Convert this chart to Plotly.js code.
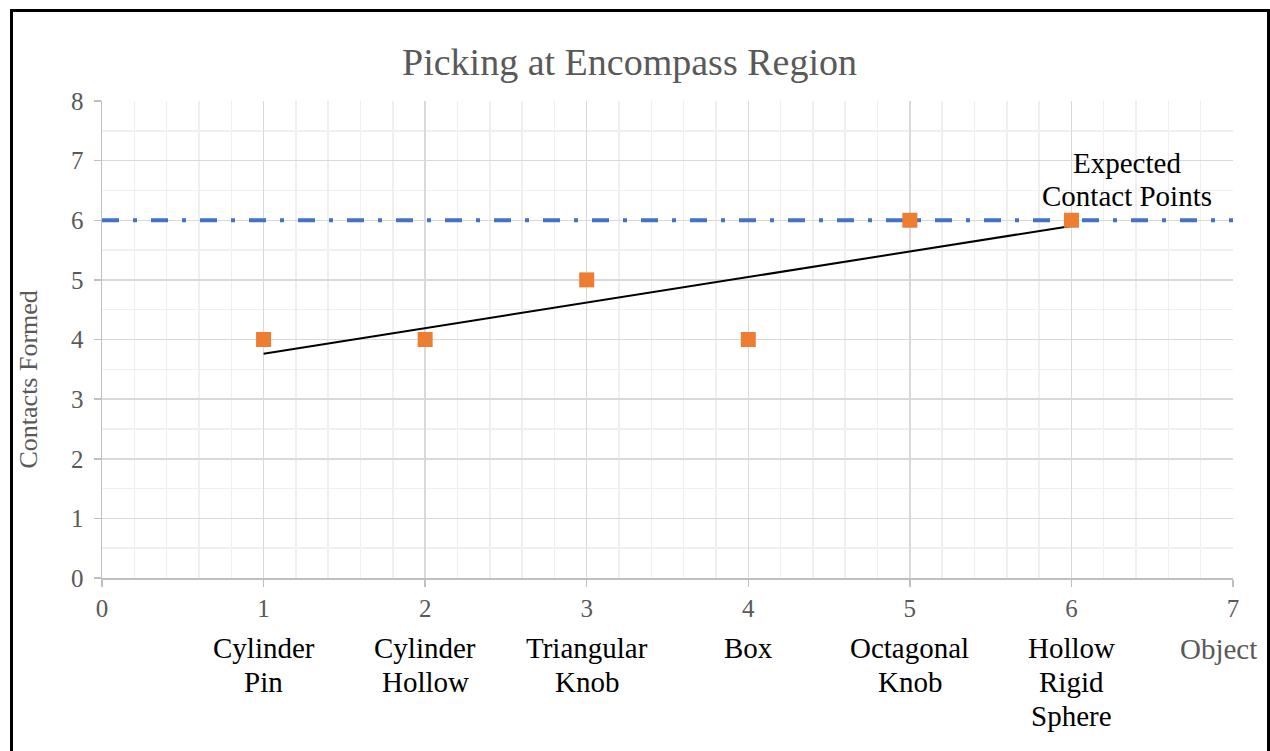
<!DOCTYPE html>
<html>
<head>
<meta charset="utf-8">
<script src="https://cdn.plot.ly/plotly-3.0.1.min.js"></script>
<style>
  html, body { margin: 0; padding: 0; background: #ffffff; overflow: hidden; }
  #chart { position: absolute; left: 0; top: 0; width: 1270px; height: 751px; }
  #frame { position: absolute; left: 10px; top: 9px; width: 1260px; height: 800px;
           box-sizing: border-box; border: 3px solid #000; pointer-events: none; }
</style>
</head>
<body>
<div id="chart"></div>
<div id="frame"></div>
<script>
// ---- data ----
const objectIndex = [1, 2, 3, 4, 5, 6];
const contactsFormed = [4, 4, 5, 4, 6, 6];
const objectNames = ["Cylinder<br>Pin", "Cylinder<br>Hollow", "Triangular<br>Knob", "Box", "Octagonal<br>Knob", "Hollow<br>Rigid<br>Sphere"];
const expectedContacts = 6;
const expectedLabel = "Expected<br>Contact Points";
const xRange = [0, 7];
const yRange = [0, 8];
const chartTitle = "Picking at Encompass Region";
const xTitle = "Object";
const yTitle = "Contacts Formed";

// linear trendline (least squares) from the data
const n = objectIndex.length;
const mx = objectIndex.reduce((a, b) => a + b, 0) / n;
const my = contactsFormed.reduce((a, b) => a + b, 0) / n;
let sxy = 0, sxx = 0;
for (let i = 0; i < n; i++) {
  sxy += (objectIndex[i] - mx) * (contactsFormed[i] - my);
  sxx += (objectIndex[i] - mx) ** 2;
}
const slope = sxy / sxx;
const intercept = my - slope * mx;
const trendX = [Math.min(...objectIndex), Math.max(...objectIndex)];
const trendY = trendX.map(x => intercept + slope * x);

const serif = "Liberation Serif, Times New Roman, serif";
const gray = "#595959";

const traces = [
  {
    x: xRange, y: [expectedContacts, expectedContacts],
    mode: "lines", type: "scatter",
    line: { color: "#4472C4", width: 4, dash: "17px,14px,4px,14px" },
    hoverinfo: "skip", showlegend: false
  },
  {
    x: trendX, y: trendY,
    mode: "lines", type: "scatter",
    line: { color: "#000000", width: 2 },
    showlegend: false
  },
  {
    x: objectIndex, y: contactsFormed,
    mode: "markers", type: "scatter",
    marker: { symbol: "square", size: 15, color: "#ED7D31" },
    showlegend: false
  }
];

const annotations = [];
// category labels, one annotation per line for tight line spacing
const lineGap = 34;
objectNames.forEach((name, i) => {
  name.split("<br>").forEach((line, j) => {
    annotations.push({
      x: objectIndex[i], y: 0, xref: "x", yref: "paper",
      xanchor: "center", yanchor: "middle",
      yshift: -(70 + j * lineGap),
      text: line, showarrow: false,
      font: { family: serif, size: 29, color: "#000000" }
    });
  });
});
// expected label
expectedLabel.split("<br>").forEach((line, j) => {
  annotations.push({
    x: objectIndex[objectIndex.length - 1], y: expectedContacts, xref: "x", yref: "y",
    xanchor: "center", yanchor: "middle", xshift: 56,
    yshift: 57 - j * 33,
    text: line, showarrow: false,
    font: { family: serif, size: 29, color: "#000000" }
  });
});
// x axis title at right
annotations.push({
  x: 0.987, y: 0, xref: "paper", yref: "paper",
  xanchor: "center", yanchor: "middle", yshift: -71,
  text: xTitle, showarrow: false,
  font: { family: serif, size: 29, color: gray }
});
// y axis title
annotations.push({
  x: 0, y: 0.5, xref: "paper", yref: "paper",
  xanchor: "center", yanchor: "middle", xshift: -74, yshift: -40,
  text: yTitle, showarrow: false, textangle: -90,
  font: { family: serif, size: 26, color: gray }
});

const layout = {
  width: 1270, height: 751,
  paper_bgcolor: "#ffffff", plot_bgcolor: "#ffffff",
  margin: { l: 102, r: 37, t: 101, b: 173 },
  title: {
    text: chartTitle, x: 629.5 / 1270, xref: "container", xanchor: "center",
    y: 1 - 62 / 751, yref: "container", yanchor: "middle",
    font: { family: serif, size: 38, color: gray }
  },
  xaxis: {
    range: xRange, dtick: 1, tick0: 0,
    showgrid: true, gridcolor: "#d9d9d9", gridwidth: 1.5,
    minor: { dtick: 0.2, showgrid: true, gridcolor: "#efefef", gridwidth: 1.5 },
    showline: true, linecolor: "#bfbfbf", linewidth: 1.5,
    ticks: "outside", ticklen: 7, tickcolor: "#bfbfbf", tickwidth: 1.5,
    zeroline: false, ticklabelstandoff: 0,
    tickfont: { family: serif, size: 25, color: gray },
    fixedrange: true
  },
  yaxis: {
    range: yRange, dtick: 1, tick0: 0,
    showgrid: true, gridcolor: "#d9d9d9", gridwidth: 1.5,
    minor: { dtick: 0.5, showgrid: true, gridcolor: "#efefef", gridwidth: 1.5 },
    showline: true, linecolor: "#bfbfbf", linewidth: 1.5,
    ticks: "outside", ticklen: 7, tickcolor: "#bfbfbf", tickwidth: 1.5,
    zeroline: false, ticklabelstandoff: 5,
    tickfont: { family: serif, size: 25, color: gray },
    fixedrange: true
  },
  annotations: annotations,
  showlegend: false
};

Plotly.newPlot("chart", traces, layout, { displayModeBar: false, staticPlot: true });
</script>
</body>
</html>
